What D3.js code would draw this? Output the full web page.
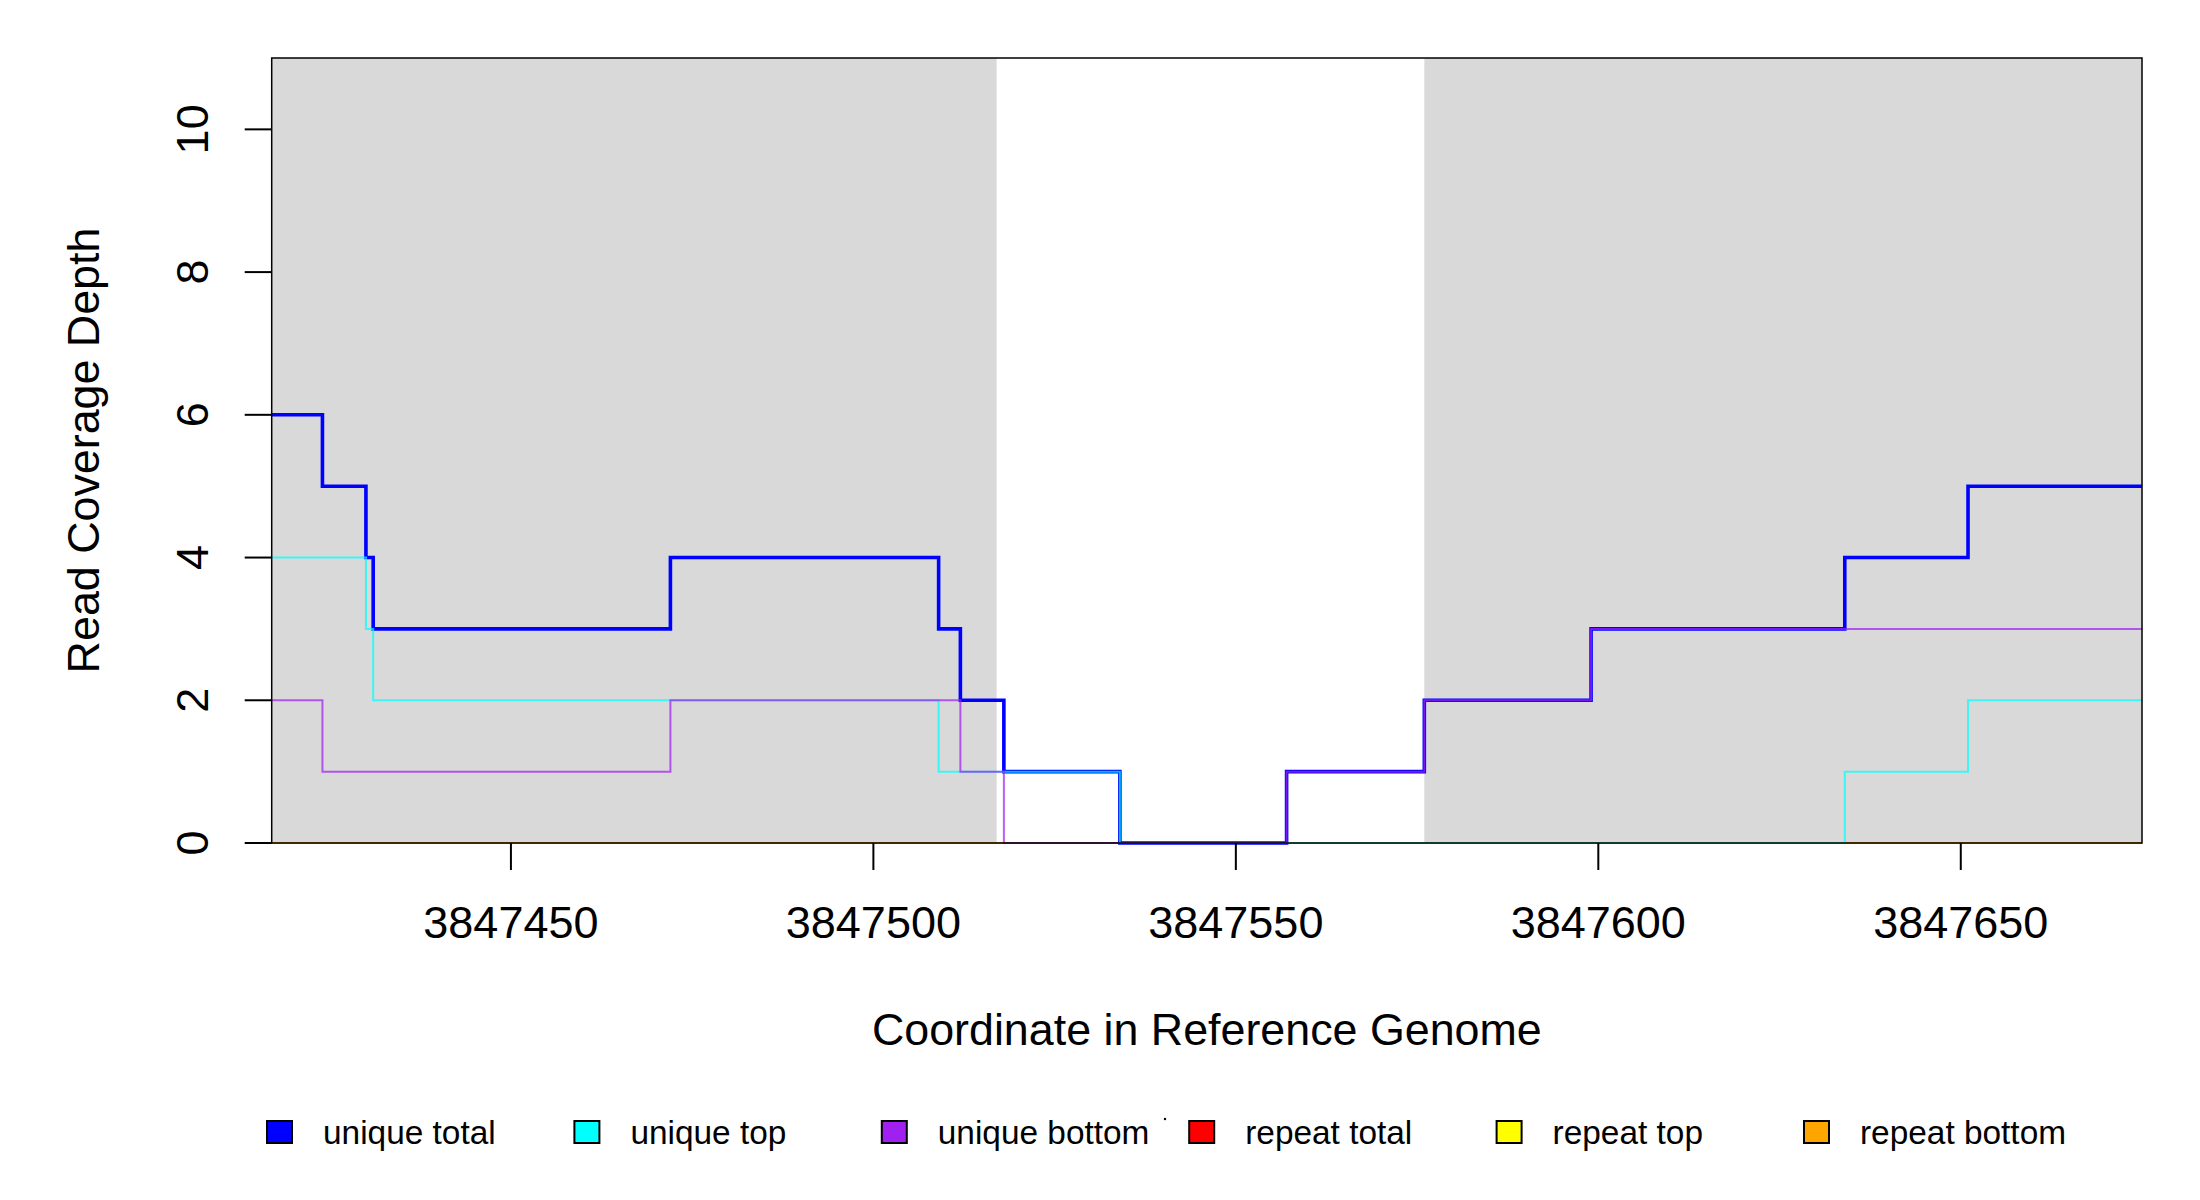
<!DOCTYPE html>
<html>
<head>
<meta charset="utf-8">
<script src="https://cdn.jsdelivr.net/npm/d3@7"></script>
<style>
  html, body { margin: 0; padding: 0; background: #fff; }
  svg { display: block; font-family: "Liberation Sans", Arial, Helvetica, sans-serif; }
</style>
</head>
<body>
<svg id="chart" width="2200" height="1200"></svg>
<script>
// ---- data ----
const breakpoints   = [3847417, 3847424, 3847430, 3847431, 3847472, 3847509, 3847512, 3847518, 3847534, 3847557, 3847576, 3847599, 3847634, 3847651, 3847675];
const uniqueTotal   = [6, 5, 4, 3, 4, 3, 2, 1, 0, 1, 2, 3, 4, 5, 5];
const uniqueTop     = [4, 4, 3, 2, 2, 1, 1, 1, 0, 0, 0, 0, 1, 2, 2];
const uniqueBottom  = [2, 1, 1, 1, 2, 2, 1, 0, 0, 1, 2, 3, 3, 3, 3];
const repeatTotal   = [0, 0, 0, 0, 0, 0, 0, 0, 0, 0, 0, 0, 0, 0, 0];
const repeatTop     = [0, 0, 0, 0, 0, 0, 0, 0, 0, 0, 0, 0, 0, 0, 0];
const repeatBottom  = [0, 0, 0, 0, 0, 0, 0, 0, 0, 0, 0, 0, 0, 0, 0];
const shadedStarts  = [3847417, 3847576];
const shadedEnds    = [3847517, 3847675];
const xTicks        = [3847450, 3847500, 3847550, 3847600, 3847650];
const yTicks        = [0, 2, 4, 6, 8, 10];
const legendLabels  = ["unique total", "unique top", "unique bottom", "repeat total", "repeat top", "repeat bottom"];
const legendColors  = ["#0000FF", "#00FFFF", "#A020F0", "#FF0000", "#FFFF00", "#FFA500"];

// ---- layout ----
const L = 271.7, R = 2142, T = 58, B = 843;
const svg = d3.select("#chart");
const x = d3.scaleLinear().domain([breakpoints[0], breakpoints[breakpoints.length - 1]]).range([L, R]);
const y = d3.scaleLinear().domain([0, 11]).range([B, T]);

// shaded regions
svg.append("g").selectAll("rect")
  .data(shadedStarts.map((s, i) => [s, shadedEnds[i]]))
  .join("rect")
  .attr("x", d => x(d[0])).attr("width", d => x(d[1]) - x(d[0]))
  .attr("y", T).attr("height", B - T)
  .attr("fill", "#D9D9D9");

// step lines
const line = d3.line()
  .x(d => x(d[0])).y(d => y(d[1]))
  .curve(d3.curveStepAfter);
const series = [
  { v: repeatTotal,  c: legendColors[3], w: 2.2, o: 1 },
  { v: repeatTop,    c: legendColors[4], w: 2.2, o: 1 },
  { v: repeatBottom, c: legendColors[5], w: 2.2, o: 1 },
  { v: uniqueTotal,  c: legendColors[0], w: 3.6, o: 1 },
  { v: uniqueTop,    c: legendColors[1], w: 2.0, o: 0.72 },
  { v: uniqueBottom, c: legendColors[2], w: 2.0, o: 0.72 }
];
svg.append("g").selectAll("path")
  .data(series)
  .join("path")
  .attr("d", s => line(breakpoints.map((b, i) => [b, s.v[i]])))
  .attr("fill", "none")
  .attr("stroke", s => s.c)
  .attr("stroke-width", s => s.w)
  .attr("stroke-opacity", s => s.o)
  .attr("stroke-linejoin", "miter")
  .attr("stroke-linecap", "butt");

// box
svg.append("rect")
  .attr("x", L).attr("y", T).attr("width", R - L).attr("height", B - T)
  .attr("fill", "none").attr("stroke", "#000").attr("stroke-width", 1.5);

// x axis
const xAxis = svg.append("g");
xAxis.selectAll("line").data(xTicks).join("line")
  .attr("x1", d => x(d)).attr("x2", d => x(d))
  .attr("y1", B).attr("y2", B + 27)
  .attr("stroke", "#000").attr("stroke-width", 2);
xAxis.selectAll("text").data(xTicks).join("text")
  .attr("x", d => x(d)).attr("y", 938)
  .attr("text-anchor", "middle")
  .attr("font-size", 45)
  .text(d => d3.format("d")(d));

// y axis
const yAxis = svg.append("g");
yAxis.selectAll("line").data(yTicks).join("line")
  .attr("x1", L - 27).attr("x2", L)
  .attr("y1", d => y(d)).attr("y2", d => y(d))
  .attr("stroke", "#000").attr("stroke-width", 2);
yAxis.selectAll("text").data(yTicks).join("text")
  .attr("transform", d => `translate(208,${y(d)}) rotate(-90)`)
  .attr("text-anchor", "middle")
  .attr("font-size", 45)
  .text(d => d);

// axis titles
svg.append("text")
  .attr("x", (L + R) / 2).attr("y", 1045)
  .attr("text-anchor", "middle").attr("font-size", 44.8)
  .text("Coordinate in Reference Genome");
svg.append("text")
  .attr("transform", `translate(99,${(T + B) / 2}) rotate(-90)`)
  .attr("text-anchor", "middle").attr("font-size", 44.8)
  .text("Read Coverage Depth");

// legend
const legend = svg.append("g");
const lg = legend.selectAll("g").data(legendLabels).join("g")
  .attr("transform", (d, i) => `translate(${267 + i * 307.4},0)`);
lg.append("rect")
  .attr("x", 0).attr("y", 1121).attr("width", 25).attr("height", 22)
  .attr("fill", (d, i) => legendColors[i])
  .attr("stroke", "#000").attr("stroke-width", 2);
lg.append("text")
  .attr("x", 56).attr("y", 1143.5)
  .attr("font-size", 33.4)
  .text(d => d);
// tiny stray mark seen in the legend
legend.append("circle").attr("cx", 1165).attr("cy", 1119).attr("r", 1.2).attr("fill", "#000");
</script>
</body>
</html>
